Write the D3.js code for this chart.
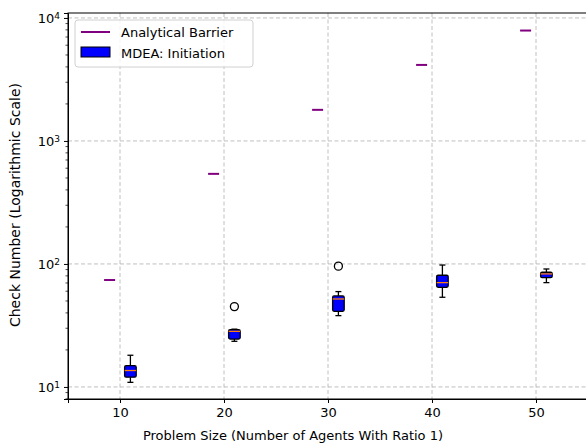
<!DOCTYPE html>
<html>
<head>
<meta charset="utf-8">
<script src="https://cdn.jsdelivr.net/npm/d3@7"></script>
<style>
  body { margin: 0; background: #fff; }
  text { font-family: "DejaVu Sans", sans-serif; }
</style>
</head>
<body>
<div id="chart"></div>
<script>
// Data
var barrierX = [9, 19, 29, 39, 49];
var barrierY = [74, 540, 1790, 4150, 7900];

var boxX = [11, 21, 31, 41, 51];
var whiskerLow = [10.9, 23.5, 38, 53.6, 70.5];
var q1 = [12.0, 24.5, 41.2, 64.6, 77.4];
var median = [13.6, 28.3, 51.9, 70.5, 83];
var q3 = [14.9, 29.2, 55, 80.9, 85.6];
var whiskerHigh = [18.1, 29.5, 59.6, 98, 91];
var outliers = [[], [45], [96], [], []];

var xTicks = [10, 20, 30, 40, 50];
var yTicks = [10, 100, 1000, 10000];
var yTickLabels = ["1", "2", "3", "4"];

var svgWidth = 586;
var svgHeight = 444;
var margin = { top: 13, right: -2, bottom: 45, left: 68 };
var width = svgWidth - margin.left - margin.right;
var height = svgHeight - margin.top - margin.bottom;

var svg = d3.select("#chart")
  .append("svg")
  .attr("width", svgWidth)
  .attr("height", svgHeight);

var chartGroup = svg.append("g")
  .attr("transform", `translate(${margin.left}, ${margin.top})`);

var xScale = d3.scaleLinear().domain([5, 55]).range([0, width]);
var yScale = d3.scaleLog().domain([7.98, 10970]).range([height, 0]);

// grid
var dash = "4,2.5";
chartGroup.selectAll(".xgrid")
  .data(xTicks).enter().append("line")
  .attr("x1", d => xScale(d)).attr("x2", d => xScale(d))
  .attr("y1", 0).attr("y2", height)
  .attr("stroke", "#b0b0b0").attr("stroke-width", 0.8)
  .attr("stroke-dasharray", dash);
chartGroup.selectAll(".ygrid")
  .data(yTicks).enter().append("line")
  .attr("x1", 0).attr("x2", width)
  .attr("y1", d => yScale(d)).attr("y2", d => yScale(d))
  .attr("stroke", "#b0b0b0").attr("stroke-width", 0.8)
  .attr("stroke-dasharray", dash);

// axes
var bottomAxis = d3.axisBottom(xScale).tickValues(xTicks).tickSize(4).tickPadding(5);
var xAxisG = chartGroup.append("g")
  .attr("transform", `translate(0, ${height})`)
  .call(bottomAxis);
xAxisG.selectAll("text").attr("font-size", 13).attr("fill", "#000")
  .style("font-family", "DejaVu Sans");

var leftAxis = d3.axisLeft(yScale).tickValues(yTicks).tickSize(4).tickPadding(5)
  .tickFormat("");
var yAxisG = chartGroup.append("g").call(leftAxis);

// superscript tick labels
yAxisG.selectAll(".tick").each(function(d, i) {
  var t = d3.select(this).append("text")
    .attr("x", -8).attr("dy", "0.38em")
    .attr("text-anchor", "end")
    .attr("fill", "#000")
    .attr("font-size", 13)
    .style("font-family", "DejaVu Sans");
  t.append("tspan").text("10");
  t.append("tspan").attr("dy", "-0.45em").attr("font-size", 9).text(yTickLabels[i]);
});

// minor ticks
var minor = [];
[1, 10, 100, 1000].forEach(function(dec) {
  for (var k = 2; k <= 9; k++) {
    var v = k * dec;
    if (v >= 7.98 && v <= 10970) minor.push(v);
  }
});
chartGroup.selectAll(".minor")
  .data(minor).enter().append("line")
  .attr("x1", -2.5).attr("x2", 0)
  .attr("y1", d => yScale(d)).attr("y2", d => yScale(d))
  .attr("stroke", "#000").attr("stroke-width", 0.7);

// spines
chartGroup.selectAll(".domain").attr("stroke", "#000").attr("stroke-width", 1);
chartGroup.append("rect")
  .attr("x", 0).attr("y", 0).attr("width", width).attr("height", height)
  .attr("fill", "none").attr("stroke", "#000").attr("stroke-width", 1);

// analytical barrier markers
chartGroup.selectAll(".barrier")
  .data(barrierX).enter().append("line")
  .attr("x1", d => xScale(d) - 5.5).attr("x2", d => xScale(d) + 5.5)
  .attr("y1", (d, i) => yScale(barrierY[i])).attr("y2", (d, i) => yScale(barrierY[i]))
  .attr("stroke", "#800080").attr("stroke-width", 2);

// boxplots
var halfW = 5.8;
var boxes = chartGroup.selectAll(".box")
  .data(boxX).enter().append("g");

boxes.append("line")
  .attr("x1", d => xScale(d)).attr("x2", d => xScale(d))
  .attr("y1", (d, i) => yScale(whiskerLow[i])).attr("y2", (d, i) => yScale(q1[i]))
  .attr("stroke", "#000").attr("stroke-width", 1.3);
boxes.append("line")
  .attr("x1", d => xScale(d)).attr("x2", d => xScale(d))
  .attr("y1", (d, i) => yScale(q3[i])).attr("y2", (d, i) => yScale(whiskerHigh[i]))
  .attr("stroke", "#000").attr("stroke-width", 1.3);
boxes.append("line")
  .attr("x1", d => xScale(d) - 3).attr("x2", d => xScale(d) + 3)
  .attr("y1", (d, i) => yScale(whiskerLow[i])).attr("y2", (d, i) => yScale(whiskerLow[i]))
  .attr("stroke", "#000").attr("stroke-width", 1.3);
boxes.append("line")
  .attr("x1", d => xScale(d) - 3).attr("x2", d => xScale(d) + 3)
  .attr("y1", (d, i) => yScale(whiskerHigh[i])).attr("y2", (d, i) => yScale(whiskerHigh[i]))
  .attr("stroke", "#000").attr("stroke-width", 1.3);
boxes.append("rect")
  .attr("x", d => xScale(d) - halfW)
  .attr("y", (d, i) => yScale(q3[i]))
  .attr("width", halfW * 2)
  .attr("height", (d, i) => yScale(q1[i]) - yScale(q3[i]))
  .attr("rx", 1.5)
  .attr("fill", "#0000ff").attr("stroke", "#000").attr("stroke-width", 1.3);
boxes.append("line")
  .attr("x1", d => xScale(d) - halfW).attr("x2", d => xScale(d) + halfW)
  .attr("y1", (d, i) => yScale(median[i])).attr("y2", (d, i) => yScale(median[i]))
  .attr("stroke", "#ff7f0e").attr("stroke-width", 1.3);

// outliers
boxX.forEach(function(x, i) {
  outliers[i].forEach(function(v) {
    chartGroup.append("circle")
      .attr("cx", xScale(x)).attr("cy", yScale(v))
      .attr("r", 4).attr("fill", "none")
      .attr("stroke", "#000").attr("stroke-width", 1.3);
  });
});

// legend
var legend = chartGroup.append("g").attr("transform", "translate(7, 7)");
legend.append("rect")
  .attr("width", 178).attr("height", 47).attr("rx", 3)
  .attr("fill", "#fff").attr("fill-opacity", 0.8)
  .attr("stroke", "#d0d0d0").attr("stroke-width", 1);
legend.append("line")
  .attr("x1", 6).attr("x2", 35).attr("y1", 12).attr("y2", 12)
  .attr("stroke", "#800080").attr("stroke-width", 2);
legend.append("rect")
  .attr("x", 6).attr("y", 27).attr("width", 29).attr("height", 10)
  .attr("fill", "#0000ff").attr("stroke", "#000").attr("stroke-width", 1);
legend.append("text").attr("x", 46).attr("y", 17)
  .attr("font-size", 13).text("Analytical Barrier");
legend.append("text").attr("x", 46).attr("y", 37.5)
  .attr("font-size", 13).text("MDEA: Initiation");

// axis labels
svg.append("text")
  .attr("transform", "translate(20, 205) rotate(-90)")
  .attr("text-anchor", "middle")
  .attr("font-size", 14)
  .text("Check Number (Logarithmic Scale)");

svg.append("text")
  .attr("x", 293).attr("y", 440)
  .attr("text-anchor", "middle")
  .attr("font-size", 13)
  .text("Problem Size (Number of Agents With Ratio 1)");
</script>
</body>
</html>
